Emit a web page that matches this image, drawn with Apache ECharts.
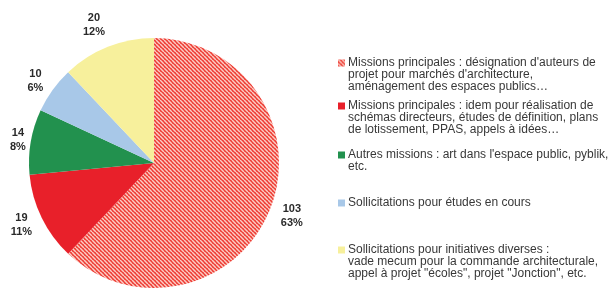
<!DOCTYPE html>
<html><head><meta charset="utf-8">
<script src="https://cdn.jsdelivr.net/npm/echarts@6/dist/echarts.min.js"></script>
<style>html,body{margin:0;padding:0;background:#fff}#c{width:614px;height:288px}</style>
</head><body><div id="c"></div>
<script>
const categories = ['Missions principales A','Missions principales B','Autres missions','Sollicitations études','Sollicitations initiatives'];
const values = [103, 19, 14, 10, 20];
const percents = ['63%', '11%', '8%', '6%', '12%'];
const legendTexts = [
  "Missions principales : désignation d'auteurs de\nprojet pour marchés d'architecture,\naménagement des espaces publics…",
  "Missions principales : idem pour réalisation de\nschémas directeurs, études de définition, plans\nde lotissement, PPAS, appels à idées…",
  "Autres missions : art dans l'espace public, pyblik,\netc.",
  "Sollicitations pour études en cours",
  "Sollicitations pour initiatives diverses :\nvade mecum pour la commande architecturale,\nappel à projet \"écoles\", projet \"Jonction\", etc."
];

function hatch(){
  const c = document.createElement('canvas');
  c.width = 4; c.height = 4;
  const g = c.getContext('2d');
  g.fillStyle = '#ee3b33'; g.fillRect(0,0,4,4);
  g.strokeStyle = '#fbcdc5'; g.lineWidth = 1.5;
  for (let k=-8;k<=8;k+=4){ g.beginPath(); g.moveTo(k,0); g.lineTo(k+4,4); g.stroke(); }
  return {image: c, repeat: 'repeat'};
}
const colors = [hatch(), '#e8202a', '#22914e', '#a8c8e8', '#f7f09c'];
const LH = 12;
const legendFirstLine = [63, 106, 155, 203, 250];
const labelLens = [18, 17, 8, 15, 24];

const chart = echarts.init(document.getElementById('c'), null, {renderer:'canvas'});
const legends = categories.map((n,i)=>{
  const lines = legendTexts[i].split('\n').length;
  return {
    data:[n], orient:'vertical', left:338, top: legendFirstLine[i] - (2*lines-1)*LH/2,
    padding:0, itemWidth:7, itemHeight:7, itemGap:0, icon:'rect',
    formatter: ()=>'\u00a0\n'.repeat(lines-1) + legendTexts[i],
    textStyle:{fontFamily:'Liberation Sans, Arial', fontSize:12, color:'#383838', lineHeight:LH,
      padding:[0,0,0,-2]},
    selectedMode:false
  };
});
chart.setOption({
  animation:false,
  legend: legends,
  series:[{
    type:'pie', center:[154,163], radius:125, startAngle:90, clockwise:true,
    avoidLabelOverlap:false,
    data: categories.map((n,i)=>({name:n, value:values[i], itemStyle:{color:colors[i]},
      labelLine:{length:labelLens[i], length2:0}})),
    label:{show:true, position:'outside', formatter:(p)=>values[p.dataIndex]+'\n'+percents[p.dataIndex],
      fontFamily:'Liberation Sans, Arial', fontWeight:'bold', fontSize:11, color:'#2a2a2a', lineHeight:14},
    labelLine:{show:false},
    labelLayout: ()=>({align:'center', verticalAlign:'middle'}),
    emphasis:{disabled:true}
  }]
});
</script></body></html>
